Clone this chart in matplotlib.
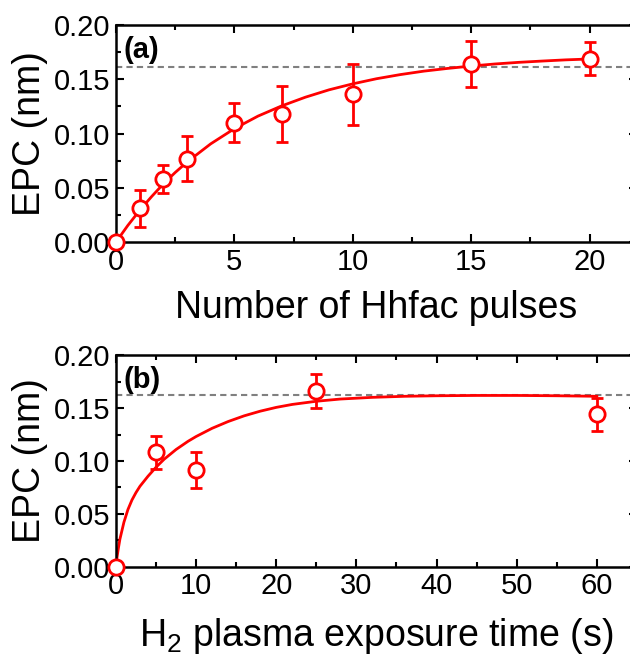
import matplotlib
matplotlib.use("Agg")
import matplotlib.pyplot as plt
from matplotlib.ticker import MultipleLocator, FormatStrFormatter

plt.rcParams["font.family"] = ["Liberation Sans", "DejaVu Sans"]
plt.rcParams["mathtext.fontset"] = "custom"
plt.rcParams["mathtext.rm"] = "Liberation Sans"

# panel (a): EPC vs number of Hhfac pulses
pulses = [0, 1, 2, 3, 5, 7, 10, 15, 20]
epc_a = [0.0, 0.031, 0.058, 0.077, 0.110, 0.118, 0.136, 0.164, 0.169]
err_a = [0.0, 0.017, 0.013, 0.021, 0.018, 0.026, 0.028, 0.021, 0.015]
fit_x_a = [0, 0.5, 1, 1.5, 2, 2.5, 3, 4, 5, 6, 7, 8, 9, 10, 11, 12, 13,
           14, 15, 16, 17, 18, 19, 20]
fit_y_a = [0.0, 0.0153, 0.0292, 0.0418, 0.0536, 0.0641, 0.0737, 0.0905,
           0.1045, 0.1161, 0.1255, 0.1335, 0.1403, 0.1458, 0.1505, 0.1543,
           0.1575, 0.1600, 0.1622, 0.1641, 0.1656, 0.1668, 0.1679, 0.1687]
sat_a = 0.161

# panel (b): EPC vs H2 plasma exposure time
times = [0, 5, 10, 25, 60]
epc_b = [0.0, 0.108, 0.091, 0.166, 0.144]
err_b = [0.0, 0.016, 0.017, 0.016, 0.016]
fit_x_b = [0, 0.1, 0.3, 0.5, 1, 1.5, 2, 2.5, 3, 4, 5, 6, 7.5, 9, 10, 12,
           14, 16, 18, 20, 22, 25, 28, 32, 36, 40, 45, 50, 55, 60]
fit_y_b = [0.0, 0.007, 0.017, 0.026, 0.042, 0.054, 0.063, 0.070, 0.076,
           0.0855, 0.094, 0.1015, 0.1108, 0.1186, 0.1231, 0.1309, 0.1373,
           0.1427, 0.1471, 0.1507, 0.1535, 0.1565, 0.1586, 0.1602, 0.1612,
           0.1617, 0.1620, 0.1620, 0.1617, 0.1612]
sat_b = 0.162

fig = plt.figure(figsize=(6.3, 6.58), dpi=100)
ax_a = fig.add_axes([0.184, 0.632, 0.827, 0.330])
ax_b = fig.add_axes([0.184, 0.139, 0.827, 0.321])


def style(ax, xmax, xmajor, xminor, xlabel, tag, xlab_y):
    ax.set_xlim(0, xmax)
    ax.set_ylim(0, 0.20)
    ax.xaxis.set_major_locator(MultipleLocator(xmajor))
    ax.xaxis.set_minor_locator(MultipleLocator(xminor))
    ax.yaxis.set_major_locator(MultipleLocator(0.05))
    ax.yaxis.set_minor_locator(MultipleLocator(0.025))
    ax.yaxis.set_major_formatter(FormatStrFormatter("%.2f"))
    ax.tick_params(which="both", direction="in", top=True, right=True,
                   width=1.5, labelsize=21)
    ax.tick_params(which="major", length=6, pad=4)
    ax.tick_params(which="minor", length=3.5)
    for s in ax.spines.values():
        s.set_linewidth(1.8)
    xl = ax.set_xlabel(xlabel, fontsize=27)
    xl.set_va("center")
    ax.xaxis.set_label_coords(0.5, xlab_y)
    yl = ax.set_ylabel("EPC (nm)", fontsize=27)
    yl.set_va("center")
    ax.yaxis.set_label_coords(-0.165, 0.5)
    ax.text(0.015, 0.95, tag, transform=ax.transAxes, fontsize=21,
            fontweight="bold", va="top", ha="left")


def draw(ax, x, y, e, fx, fy, sat):
    ax.axhline(sat, color="gray", lw=1.5, ls=(0, (3, 2)), zorder=1)
    ax.plot(fx, fy, color="red", lw=2, zorder=2)
    ax.errorbar(x, y, yerr=e, fmt="o", ms=11, mfc="white", mec="red",
                mew=2, ecolor="red", elinewidth=2, capsize=4, capthick=2,
                zorder=3, clip_on=False)


draw(ax_a, pulses, epc_a, err_a, fit_x_a, fit_y_a, sat_a)
style(ax_a, 22, 5, 2.5, "Number of Hhfac pulses", "(a)", -0.304)

draw(ax_b, times, epc_b, err_b, fit_x_b, fit_y_b, sat_b)
style(ax_b, 65, 10, 5, "H$_2$ plasma exposure time (s)", "(b)", -0.329)

fig.savefig("out.png", dpi=100)
